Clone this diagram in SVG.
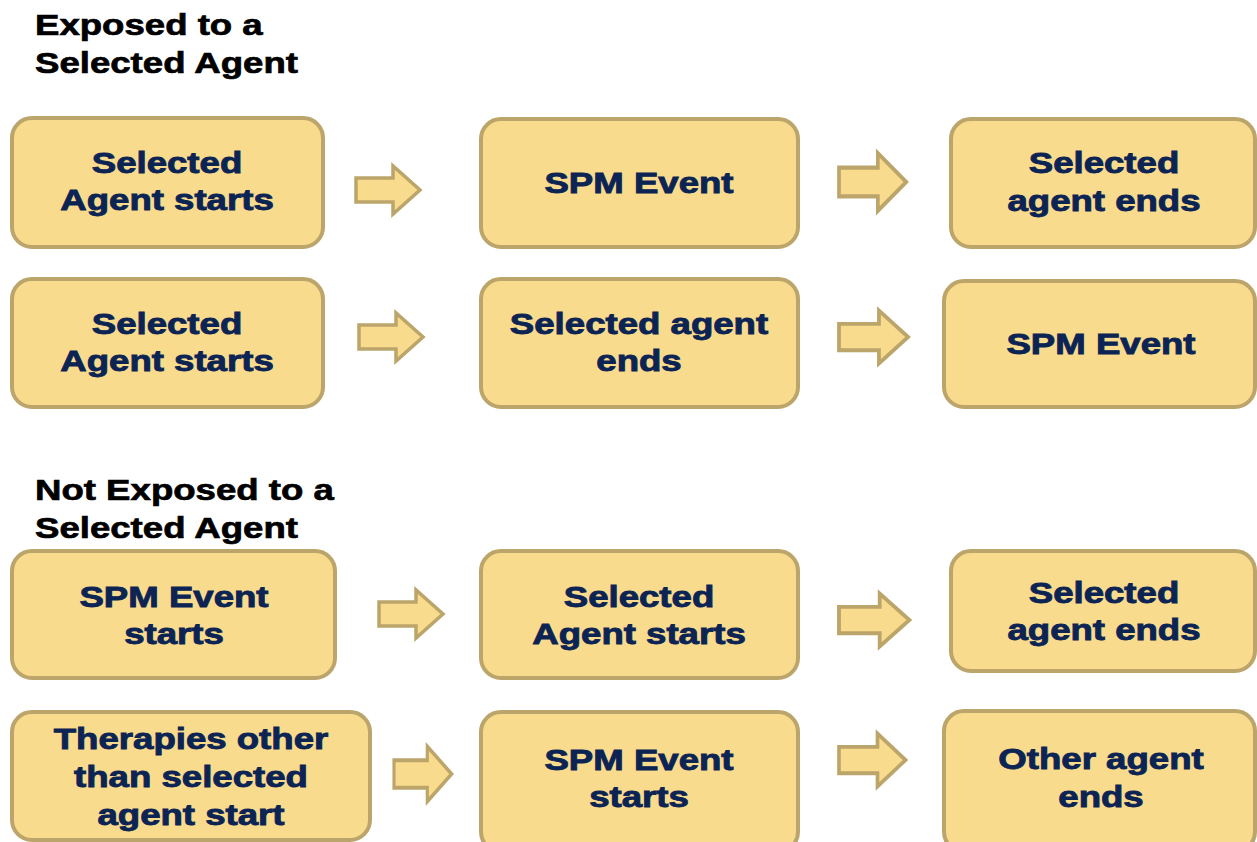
<svg xmlns="http://www.w3.org/2000/svg" width="1257" height="842" viewBox="0 0 1257 842">
<style>
.box{fill:#F9DB8D;stroke:#BCA56A;stroke-width:4}
.arr{fill:#F9DB8D;stroke:#BCA56A;stroke-width:3.5;stroke-linejoin:miter}
.t{font-family:"Liberation Sans",Arial,sans-serif;font-weight:bold;font-size:30px;fill:#0B2454;text-anchor:middle;stroke:#0B2454;stroke-width:0.9}
.h{font-family:"Liberation Sans",Arial,sans-serif;font-weight:bold;font-size:30px;fill:#000;text-anchor:start;stroke:#000;stroke-width:0.7}
</style>
<defs>
<path id="ar" d="M0,-12 H37 V-24 L64,0 L37,24 V12 H0 Z"/>
</defs>
<rect width="1257" height="842" fill="#fff"/>
<g id="title1">
<text class="h" transform="translate(35,35) scale(1.22,1)">Exposed to a</text>
<text class="h" transform="translate(35,73) scale(1.22,1)">Selected Agent</text>
</g>
<g id="title2">
<text class="h" transform="translate(35,500) scale(1.22,1)">Not Exposed to a</text>
<text class="h" transform="translate(35,538) scale(1.22,1)">Selected Agent</text>
</g>
<g id="connectors">
<use href="#ar" class="arr" transform="translate(356,190) scale(1,1)"/>
<use href="#ar" class="arr" transform="translate(839,182) scale(1.05,1.2)"/>
<use href="#ar" class="arr" transform="translate(359,337)"/>
<use href="#ar" class="arr" transform="translate(839,337) scale(1.08,1.1)"/>
<use href="#ar" class="arr" transform="translate(379,614)"/>
<use href="#ar" class="arr" transform="translate(839,620) scale(1.1,1.1)"/>
<use href="#ar" class="arr" transform="translate(394,774) scale(0.9,1.15)"/>
<use href="#ar" class="arr" transform="translate(839,760) scale(1.04,1.1)"/>
</g>
<g id="n1"><rect class="box" x="12" y="118" width="311" height="129" rx="20"/>
<text class="t" transform="translate(167,173) scale(1.22,1)">Selected</text>
<text class="t" transform="translate(167,210) scale(1.22,1)">Agent starts</text></g>
<g id="n2"><rect class="box" x="481" y="119" width="317" height="128" rx="20"/>
<text class="t" transform="translate(639,193) scale(1.22,1)">SPM Event</text></g>
<g id="n3"><rect class="box" x="951" y="119" width="304" height="128" rx="20"/>
<text class="t" transform="translate(1104,173) scale(1.22,1)">Selected</text>
<text class="t" transform="translate(1104,211) scale(1.22,1)">agent ends</text></g>
<g id="n4"><rect class="box" x="12" y="279" width="311" height="128" rx="20"/>
<text class="t" transform="translate(167,334) scale(1.22,1)">Selected</text>
<text class="t" transform="translate(167,371) scale(1.22,1)">Agent starts</text></g>
<g id="n5"><rect class="box" x="481" y="279" width="317" height="128" rx="20"/>
<text class="t" transform="translate(639,334) scale(1.22,1)">Selected agent</text>
<text class="t" transform="translate(639,371) scale(1.22,1)">ends</text></g>
<g id="n6"><rect class="box" x="944" y="281" width="311" height="126" rx="20"/>
<text class="t" transform="translate(1101,354) scale(1.22,1)">SPM Event</text></g>
<g id="n7"><rect class="box" x="12" y="551" width="323" height="127" rx="20"/>
<text class="t" transform="translate(174,607) scale(1.22,1)">SPM Event</text>
<text class="t" transform="translate(174,644) scale(1.22,1)">starts</text></g>
<g id="n8"><rect class="box" x="481" y="551" width="317" height="127" rx="20"/>
<text class="t" transform="translate(639,607) scale(1.22,1)">Selected</text>
<text class="t" transform="translate(639,644) scale(1.22,1)">Agent starts</text></g>
<g id="n9"><rect class="box" x="951" y="551" width="304" height="120" rx="20"/>
<text class="t" transform="translate(1104,603) scale(1.22,1)">Selected</text>
<text class="t" transform="translate(1104,640) scale(1.22,1)">agent ends</text></g>
<g id="n10"><rect class="box" x="12" y="712" width="358" height="128" rx="20"/>
<text class="t" transform="translate(191,749) scale(1.22,1)">Therapies other</text>
<text class="t" transform="translate(191,787) scale(1.22,1)">than selected</text>
<text class="t" transform="translate(191,825) scale(1.22,1)">agent start</text></g>
<g id="n11"><rect class="box" x="481" y="712" width="317" height="140" rx="20"/>
<text class="t" transform="translate(639,770) scale(1.22,1)">SPM Event</text>
<text class="t" transform="translate(639,807) scale(1.22,1)">starts</text></g>
<g id="n12"><rect class="box" x="944" y="711" width="311" height="141" rx="20"/>
<text class="t" transform="translate(1101,769) scale(1.22,1)">Other agent</text>
<text class="t" transform="translate(1101,807) scale(1.22,1)">ends</text></g>
</svg>
